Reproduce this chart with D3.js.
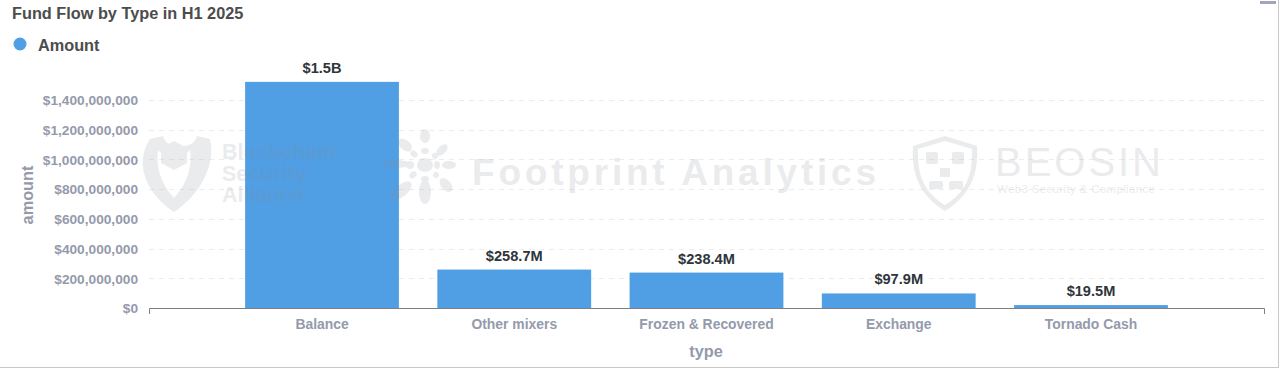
<!DOCTYPE html>
<html>
<head>
<meta charset="utf-8">
<script src="https://cdn.jsdelivr.net/npm/d3@7"></script>
<style>
  html, body { margin: 0; padding: 0; background: #fff; }
  svg { display: block; }
  text { font-family: "Liberation Sans", Arial, sans-serif; }
</style>
</head>
<body>
<svg id="chart" width="1280" height="369"></svg>
<script>
const title = "Fund Flow by Type in H1 2025";
const seriesName = "Amount";
const categories = ["Balance", "Other mixers", "Frozen & Recovered", "Exchange", "Tornado Cash"];
const amounts = [1522000000, 258700000, 238400000, 97900000, 19500000];
const valueLabels = ["$1.5B", "$258.7M", "$238.4M", "$97.9M", "$19.5M"];
const yTicks = [0, 200000000, 400000000, 600000000, 800000000, 1000000000, 1200000000, 1400000000];
const xTitle = "type";
const yTitle = "amount";

const svg = d3.select("#chart");
const barColor = "#509ee3";
const axisText = "#949aab";

// frame
svg.append("line").attr("x1", 1278.5).attr("x2", 1278.5).attr("y1", 0).attr("y2", 367.5)
  .attr("stroke", "#c8c8c8").attr("stroke-width", 1);
svg.append("line").attr("x1", 0).attr("x2", 1279).attr("y1", 367.5).attr("y2", 367.5)
  .attr("stroke", "#c8c8c8").attr("stroke-width", 1);
svg.append("rect").attr("x", 1260).attr("y", 1).attr("width", 16).attr("height", 3).attr("fill", "#a3a6b8");

// title & legend
svg.append("text").attr("x", 12).attr("y", 19).text(title)
  .attr("font-size", 16.3).attr("font-weight", "bold").attr("fill", "#4c4c4c");
svg.append("circle").attr("cx", 20).attr("cy", 44).attr("r", 6.5).attr("fill", barColor);
svg.append("text").attr("x", 38).attr("y", 50.5).text(seriesName)
  .attr("font-size", 16.3).attr("font-weight", "bold").attr("fill", "#4c4c4c");

const x0 = 149, x1 = 1264, yBase = 308;
const x = d3.scaleBand().domain(categories).range([x0, x1]).paddingInner(0.2).paddingOuter(0.5);
const y = d3.scaleLinear().domain([0, 1400000000]).range([yBase, 100]);

// gridlines
svg.append("g").selectAll("line").data(yTicks.filter(d => d > 0)).join("line")
  .attr("x1", x0).attr("x2", x1)
  .attr("y1", d => Math.round(y(d)) + 0.5).attr("y2", d => Math.round(y(d)) + 0.5)
  .attr("stroke", "#ececec").attr("stroke-dasharray", "5,5");

// watermarks (behind labels, over bars)
function watermarks(wm) {
  // Blockchain Security Alliance shield
  wm.append("path").attr("d",
    "M150,139 L163,136 C166,150 194,150 197,136 L210,139 C216,165 200,195 174,212 C148,195 133,165 150,139 Z " +
    "M158,150 C155,170 164,188 174,198 C184,188 193,170 190,150 C184,158 164,158 158,150 Z")
    .attr("fill-rule", "evenodd");
  wm.append("path").attr("d", "M174,141 L187,148 L187,163 L174,170 L161,163 L161,148 Z");
  const bsa = wm.append("text").attr("font-size", 21.5).attr("font-weight", "bold")
    .attr("font-family", "Inter, sans-serif");
  bsa.append("tspan").attr("x", 222).attr("y", 159).text("Blockchain");
  bsa.append("tspan").attr("x", 222).attr("y", 180.5).text("Security");
  bsa.append("tspan").attr("x", 222).attr("y", 202).text("Alliance");
  // Footprint starburst
  const cx = 425, cy = 165;
  wm.append("ellipse").attr("cx", cx).attr("cy", cy).attr("rx", 8).attr("ry", 7);
  const petals = [
    [0, -29, 5, 7, 0], [0, 27, 6, 12, 0], [-29, -1, 14, 4, 0], [24, 0, 7, 4, 0],
    [-20, -20, 8, 5, 40], [17, -15, 7, 4, -45], [-24, 26, 13, 6, -40], [21, 20, 8, 5, 50],
    [0, -14, 4, 3, 0], [0, 14, 4, 3, 0], [-15, 0, 4, 4, 0], [12, 0, 3, 4, 0],
    [-11, -11, 4, 3, 40], [10, -9, 3, 3, -45], [-12, 10, 4, 3, -40], [11, 10, 3, 3, 45]
  ];
  petals.forEach(p => {
    wm.append("ellipse").attr("cx", cx + p[0]).attr("cy", cy + p[1]).attr("rx", p[2]).attr("ry", p[3])
      .attr("transform", `rotate(${p[4]},${cx + p[0]},${cy + p[1]})`);
  });
  wm.append("text").attr("x", 472).attr("y", 185).attr("font-size", 37).attr("font-weight", 800)
    .attr("font-family", "Inter, sans-serif").attr("textLength", 404).text("Footprint Analytics");
  // BEOSIN
  wm.append("path").attr("d",
    "M945,136 L977,146 C979,176 969,196 945,211 C921,196 911,176 913,146 Z M945,141 L918,149 C917,176 925,193 945,205 C965,193 973,176 972,149 Z")
    .attr("fill-rule", "evenodd");
  wm.append("rect").attr("x", 926).attr("y", 152).attr("width", 12).attr("height", 12).attr("rx", 2);
  wm.append("rect").attr("x", 952).attr("y", 152).attr("width", 12).attr("height", 12).attr("rx", 2);
  wm.append("rect").attr("x", 940).attr("y", 168).attr("width", 10).attr("height", 9);
  wm.append("rect").attr("x", 929).attr("y", 181).attr("width", 14).attr("height", 8).attr("rx", 2);
  wm.append("rect").attr("x", 949).attr("y", 181).attr("width", 14).attr("height", 8).attr("rx", 2);
  wm.append("text").attr("x", 995).attr("y", 176).attr("font-size", 40).attr("font-weight", 300)
    .attr("font-family", "Inter, sans-serif").attr("textLength", 166).text("BEOSIN");
  wm.append("text").attr("x", 997).attr("y", 193).attr("font-size", 11.5)
    .attr("font-family", "Inter, sans-serif").attr("textLength", 158).text("Web3 Security & Compliance");
}

// y axis labels
const yAxis = d3.axisLeft(y).tickValues(yTicks).tickSize(0).tickPadding(0)
  .tickFormat(d => "$" + d3.format(",")(d));
const gy = svg.append("g").attr("transform", `translate(138,0)`).call(yAxis);
gy.select(".domain").remove();
gy.selectAll("text").attr("font-size", 13.7).attr("font-weight", "bold").attr("fill", axisText)
  .attr("font-family", "Liberation Sans, Arial, sans-serif").attr("dy", "0.35em");

// bars
svg.append("g").selectAll("rect").data(amounts).join("rect")
  .attr("x", (d, i) => x(categories[i]))
  .attr("width", x.bandwidth())
  .attr("y", d => y(d))
  .attr("height", d => yBase - y(d))
  .attr("fill", barColor);

const wmG = svg.append("g").attr("fill", "#8a8f99").attr("opacity", 0.17).style("pointer-events", "none");
watermarks(wmG);

// bar labels
svg.append("g").selectAll("text").data(amounts).join("text")
  .attr("x", (d, i) => x(categories[i]) + x.bandwidth() / 2)
  .attr("y", d => y(d) - 9)
  .attr("text-anchor", "middle")
  .attr("font-size", 14.6).attr("font-weight", "bold").attr("fill", "#2e353b")
  .text((d, i) => valueLabels[i]);

// x axis
const xAxis = d3.axisBottom(x).tickSize(0).tickPadding(0);
const gx = svg.append("g").attr("transform", `translate(0,${yBase})`).call(xAxis);
gx.select(".domain").remove();
gx.selectAll("text").attr("font-size", 13.9).attr("font-weight", "bold").attr("fill", axisText)
  .attr("font-family", "Liberation Sans, Arial, sans-serif").attr("y", 21).attr("dy", 0);
svg.append("path")
  .attr("d", `M${x0 + 0.5},${yBase + 6}V${yBase + 0.5}H${x1 + 0.5}V${yBase + 6}`)
  .attr("fill", "none").attr("stroke", "#7f7f7f").attr("stroke-width", 1);

// axis titles
svg.append("text").attr("x", 706).attr("y", 357).attr("text-anchor", "middle")
  .attr("font-size", 16.3).attr("font-weight", "bold").attr("fill", axisText).text(xTitle);
svg.append("text").attr("transform", "translate(33,195) rotate(-90)").attr("text-anchor", "middle")
  .attr("font-size", 16.3).attr("font-weight", "bold").attr("fill", axisText).text(yTitle);
</script>
</body>
</html>
